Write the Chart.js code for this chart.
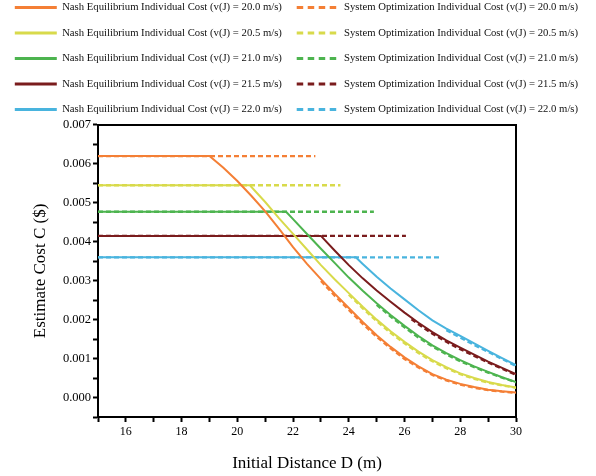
<!DOCTYPE html>
<html>
<head>
<meta charset="utf-8">
<title>Estimate Cost vs Initial Distance</title>
<script src="https://cdn.jsdelivr.net/npm/chart.js@4.4.1/dist/chart.umd.min.js"></script>
<style>
    html, body { margin: 0; padding: 0; background: #fff; }
    canvas { display: block; }
</style>
</head>
<body>
<canvas id="grafico" width="596" height="476"></canvas>
<script>
// velocidades do veiculo J (m/s)
const velocidades = ['20.0', '20.5', '21.0', '21.5', '22.0'];

// Nash Equilibrium: distancia D (m) e custo C ($)
const nashD200 = [15, 19, 19.5, 20, 20.5, 21, 21.5, 22, 22.5, 23, 23.5, 24, 24.5, 25, 25.5, 26, 26.5, 27, 27.5, 28, 28.5, 29, 29.5, 30];
const nashC200 = [0.00620, 0.00620, 0.00590, 0.00556, 0.00518, 0.00478, 0.00433, 0.00386, 0.00343, 0.00304, 0.00266, 0.00230, 0.00194, 0.00160, 0.00130, 0.00103, 0.00080, 0.00060, 0.00046, 0.00035, 0.00027, 0.00020, 0.00016, 0.00013];

const nashD205 = [15, 20.45, 21, 21.5, 22, 22.5, 23, 23.5, 24, 24.5, 25, 25.5, 26, 26.5, 27, 27.5, 28, 28.5, 29, 29.5, 30];
const nashC205 = [0.00545, 0.00545, 0.00502, 0.00460, 0.00420, 0.00380, 0.00340, 0.00303, 0.00268, 0.00233, 0.00200, 0.00170, 0.00143, 0.00118, 0.00096, 0.00078, 0.00062, 0.00050, 0.00040, 0.00032, 0.00026];

const nashD210 = [15, 21.75, 22, 22.5, 23, 23.5, 24, 24.5, 25, 25.5, 26, 26.5, 27, 27.5, 28, 28.5, 29, 29.5, 30];
const nashC210 = [0.00477, 0.00477, 0.00458, 0.00420, 0.00382, 0.00345, 0.00308, 0.00274, 0.00242, 0.00212, 0.00184, 0.00158, 0.00134, 0.00114, 0.00096, 0.00080, 0.00066, 0.00052, 0.00040];

const nashD215 = [15, 23, 23.5, 24, 24.5, 25, 25.5, 26, 26.5, 27, 27.5, 28, 28.5, 29, 29.5, 30];
const nashC215 = [0.00415, 0.00415, 0.00377, 0.00340, 0.00306, 0.00275, 0.00246, 0.00218, 0.00192, 0.00168, 0.00147, 0.00128, 0.00110, 0.00092, 0.00076, 0.00060];

const nashD220 = [15, 24.25, 24.5, 25, 25.5, 26, 26.5, 27, 27.5, 28, 28.5, 29, 29.5, 30];
const nashC220 = [0.00360, 0.00360, 0.00343, 0.00310, 0.00280, 0.00252, 0.00224, 0.00198, 0.00177, 0.00158, 0.00139, 0.00120, 0.00101, 0.00083];

// System Optimization: null = interrupcao da linha
const soD200 = [15, 22.8, 22.9, 23, 23.5, 24, 24.5, 25, 25.5, 26, 26.5, 27, 27.5, 28, 28.5, 29, 29.5, 30];
const soC200 = [0.00620, 0.00620, null, 0.00299, 0.00261, 0.00225, 0.00189, 0.00156, 0.00126, 0.00099, 0.00077, 0.00058, 0.00044, 0.00033, 0.00025, 0.00019, 0.00015, 0.00012];

const soD205 = [15, 23.7, 23.8, 24, 24.5, 25, 25.5, 26, 26.5, 27, 27.5, 28, 28.5, 29, 29.5, 30];
const soC205 = [0.00545, 0.00545, null, 0.00264, 0.00229, 0.00196, 0.00166, 0.00139, 0.00114, 0.00093, 0.00075, 0.00060, 0.00048, 0.00038, 0.00031, 0.00025];

const soD210 = [15, 24.9, 24.95, 25, 25.5, 26, 26.5, 27, 27.5, 28, 28.5, 29, 29.5, 30];
const soC210 = [0.00477, 0.00477, null, 0.00238, 0.00208, 0.00180, 0.00154, 0.00131, 0.00111, 0.00093, 0.00078, 0.00064, 0.00051, 0.00039];

const soD215 = [15, 26.05, 26.1, 26.25, 26.5, 27, 27.5, 28, 28.5, 29, 29.5, 30];
const soC215 = [0.00415, 0.00415, null, 0.00201, 0.00188, 0.00164, 0.00143, 0.00124, 0.00107, 0.00090, 0.00074, 0.00058];

const soD220 = [15, 27.25, 27.3, 27.5, 28, 28.5, 29, 29.5, 30];
const soC220 = [0.00360, 0.00360, null, 0.00173, 0.00154, 0.00135, 0.00117, 0.00099, 0.00081];

// eixos
const eixoX = { min: 15, max: 30, passo: 1 };
const eixoY = { min: -0.0005, max: 0.007, passo: 0.0005 };

const cores = ['#F47F35', '#D8DA4B', '#4DB44F', '#7A1C1D', '#49B4DE'];
const fonte = 'Liberation Serif, Times New Roman, serif';

const nashSeries = [[nashD200, nashC200], [nashD205, nashC205], [nashD210, nashC210], [nashD215, nashC215], [nashD220, nashC220]];
const soSeries = [[soD200, soC200], [soD205, soC205], [soD210, soC210], [soD215, soC215], [soD220, soC220]];

const pontos = (xs, ys) => xs.map((x, i) => ({ x: x, y: ys[i] }));

// ordem linha a linha para a legenda de duas colunas
const datasets = [];
velocidades.forEach((v, i) => {
    datasets.push({
        label: `Nash Equilibrium Individual Cost (v(J) = ${v} m/s)`,
        data: pontos(nashSeries[i][0], nashSeries[i][1]),
        borderColor: cores[i],
        backgroundColor: cores[i],
        borderWidth: 2,
        pointRadius: 0,
        tension: 0,
        spanGaps: false
    });
    datasets.push({
        label: `System Optimization Individual Cost (v(J) = ${v} m/s)`,
        data: pontos(soSeries[i][0], soSeries[i][1]),
        borderColor: cores[i],
        backgroundColor: cores[i],
        borderWidth: 2.3,
        borderDash: [5, 3],
        pointRadius: 0,
        tension: 0,
        spanGaps: false
    });
});

// fundo branco
const fundoBranco = {
    id: 'fundoBranco',
    beforeDraw(chart) {
        const ctx = chart.ctx;
        ctx.save();
        ctx.fillStyle = '#fff';
        ctx.fillRect(0, 0, chart.width, chart.height);
        ctx.restore();
    }
};

const eixoComum = {
    grid: { display: true, drawOnChartArea: false, drawTicks: true, tickLength: 5, tickWidth: 2, tickColor: '#000' },
    border: { display: true, color: '#000', width: 2 }
};

const grafico = new Chart(document.getElementById('grafico').getContext('2d'), {
    type: 'line',
    data: { datasets: datasets },
    plugins: [fundoBranco],
    options: {
        responsive: false,
        animation: false,
        devicePixelRatio: 1,
        layout: { padding: { top: -12.6, left: 0, right: 0, bottom: 0 } },
        plugins: {
            tooltip: { enabled: false },
            legend: {
                position: 'top',
                align: 'start',
                labels: {
                    usePointStyle: true,
                    pointStyleWidth: 42,
                    boxWidth: 42,
                    boxHeight: 3,
                    padding: 14.8,
                    color: '#111',
                    font: { family: fonte, size: 10.7 },
                    generateLabels: (chart) => chart.data.datasets.map((ds, i) => ({
                        text: ds.label,
                        fillStyle: ds.borderColor,
                        strokeStyle: ds.borderColor,
                        lineWidth: 3,
                        lineDash: ds.borderDash ? [6.5, 4.5] : [],
                        lineCap: 'butt',
                        pointStyle: 'line',
                        rotation: 0,
                        hidden: false,
                        fontColor: '#111',
                        datasetIndex: i
                    }))
                }
            }
        },
        scales: {
            x: {
                type: 'linear',
                position: 'bottom',
                min: eixoX.min,
                max: eixoX.max,
                ...eixoComum,
                ticks: {
                    stepSize: eixoX.passo,
                    autoSkip: false,
                    maxRotation: 0,
                    padding: 3,
                    color: '#000',
                    font: { family: fonte, size: 12 },
                    callback: (v) => (Math.round(v) % 2 === 0 ? String(v) : '')
                },
                title: {
                    display: true,
                    text: 'Initial Distance D (m)',
                    color: '#000',
                    font: { family: fonte, size: 17 },
                    padding: { top: 0, bottom: 2.5 }
                },
                afterFit: (s) => { s.height = 59; }
            },
            y: {
                type: 'linear',
                position: 'left',
                min: eixoY.min,
                max: eixoY.max,
                ...eixoComum,
                ticks: {
                    stepSize: eixoY.passo,
                    autoSkip: false,
                    padding: 2,
                    color: '#000',
                    font: { family: fonte, size: 12.5 },
                    callback: (v) => (Math.abs(Math.round(v * 10000)) % 10 === 0 ? v.toFixed(3) : '')
                },
                title: {
                    display: true,
                    text: 'Estimate Cost C ($)',
                    color: '#000',
                    font: { family: fonte, size: 17 },
                    padding: { top: 30.5, bottom: 0 }
                },
                afterFit: (s) => { s.width = 98; }
            },
            x2: {
                type: 'linear',
                axis: 'x',
                position: 'top',
                display: true,
                ticks: { display: false },
                grid: { display: false, drawTicks: false },
                border: { display: true, color: '#000', width: 2 },
                afterFit: (s) => { s.height = 0; }
            },
            y2: {
                type: 'linear',
                axis: 'y',
                position: 'right',
                display: true,
                ticks: { display: false },
                grid: { display: false, drawTicks: false },
                border: { display: true, color: '#000', width: 2 },
                afterFit: (s) => { s.width = 80; }
            }
        }
    }
});
</script>
</body>
</html>
